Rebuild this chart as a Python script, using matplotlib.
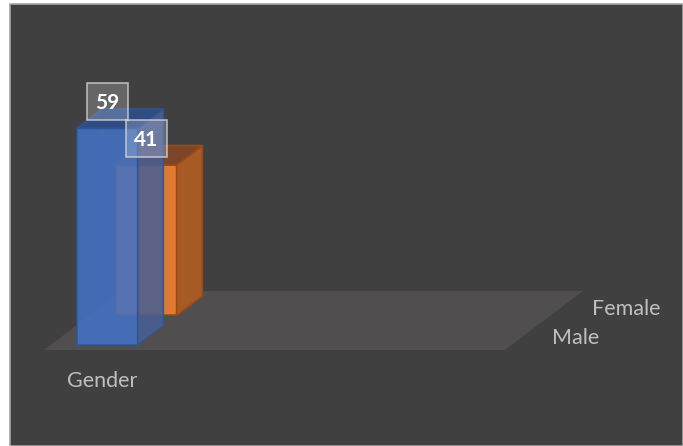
import matplotlib.pyplot as plt
from matplotlib.patches import Polygon, Rectangle

# ==================== data ====================
categories = ["Gender"]
series = ["Male", "Female"]
values = [59, 41]
face_colors = {
    "Male": ("#4472C4", "#4A5F93", "#2E4E8E", "#2F5597"),   # front, side, top, edge
    "Female": ("#E07A32", "#A65A25", "#7A4528", "#9C4A12"),
}

# ==================== layout (pixel space) ====================
W, H = 683, 446
BG = "#404040"
TXT = "#BFBFBF"
ORIGIN = (44, 350)          # front-left corner of the floor
FLOOR_W = 461               # floor width along category axis
DEPTH = (39.0, -29.5)       # one series slot in depth
PX_PER_UNIT = 3.67          # value axis scale
BAR_X0 = 26
BAR_W = 61
GAP = 0.17                  # depth gap inside one slot


def proj(x, d, z):
    """oblique projection: x along category, d along series depth, z value"""
    return (ORIGIN[0] + x + d * DEPTH[0], ORIGIN[1] + d * DEPTH[1] - z * PX_PER_UNIT)


fig = plt.figure(figsize=(W / 100, H / 100), dpi=100)
fig.patch.set_facecolor("white")
ax = fig.add_axes([0, 0, 1, 1])
ax.set_xlim(0, W)
ax.set_ylim(H, 0)
ax.axis("off")

ax.add_patch(Rectangle((10, 4), W - 10.5, H - 4.5, facecolor=BG, edgecolor="#A6A6A6", lw=1.2, zorder=0))

# floor
nd = len(series)
floor = [proj(0, 0, 0), proj(FLOOR_W, 0, 0), proj(FLOOR_W, nd, 0), proj(0, nd, 0)]
ax.add_patch(Polygon(floor, closed=True, facecolor="#504E4E", edgecolor="none", zorder=1))

# bars, back series first
label_pos = {}
for i in reversed(range(nd)):
    name = series[i]
    v = values[i]
    front, side, top, edge = face_colors[name]
    d0, d1 = i + GAP, i + 1 - GAP
    x0, x1 = BAR_X0, BAR_X0 + BAR_W
    alpha = 0.88 if i == 0 else 1.0
    z = 2 + (nd - i)
    faces = [
        ([proj(x0, d0, 0), proj(x1, d0, 0), proj(x1, d0, v), proj(x0, d0, v)], front),
        ([proj(x1, d0, 0), proj(x1, d1, 0), proj(x1, d1, v), proj(x1, d0, v)], side),
        ([proj(x0, d0, v), proj(x1, d0, v), proj(x1, d1, v), proj(x0, d1, v)], top),
    ]
    if i == 0:
        # hidden edges seen through the transparent front bar
        for a, b in [((x0, d1, 0), (x0, d1, v)), ((x0, d1, 0), (x1, d1, 0)), ((x0, d0, 0), (x0, d1, 0))]:
            pa, pb = proj(*a), proj(*b)
            ax.plot([pa[0], pb[0]], [pa[1], pb[1]], color=edge, lw=1, alpha=0.6, zorder=z)
    for pts, c in faces:
        ax.add_patch(Polygon(pts, closed=True, facecolor=c, edgecolor=edge, lw=1.2,
                             alpha=alpha, zorder=z))
    label_pos[name] = (proj(x0 + BAR_W / 2, d0, v)[0], proj(x0, d1, v)[1] - 7)

# data labels
for i, name in enumerate(series):
    cx, cy = label_pos[name]
    ax.add_patch(Rectangle((cx - 20.5, cy - 18.5), 41, 37, facecolor=(1, 1, 1, 0.2),
                           edgecolor=(0.85, 0.85, 0.85, 0.75), lw=1.2, zorder=10 + i))
    ax.text(cx, cy + 1, str(values[i]), ha="center", va="center", color="white",
            fontsize=15, fontweight="bold", family="Lato", zorder=11 + i)

# category label
gx, gy = proj(BAR_X0 + BAR_W / 2 - 1, 0, 0)
ax.text(gx + 3, gy + 31, categories[0], ha="center", va="center", color=TXT, fontsize=15.5, family="Lato")

# series (depth) labels
for i, name in enumerate(series):
    px, py = proj(FLOOR_W, i + 0.5, 0)
    ax.text(px + 28, py + 3, name, ha="left", va="center", color=TXT, fontsize=15.5, family="Lato")

fig.savefig("out.png", dpi=100, facecolor=fig.get_facecolor())
